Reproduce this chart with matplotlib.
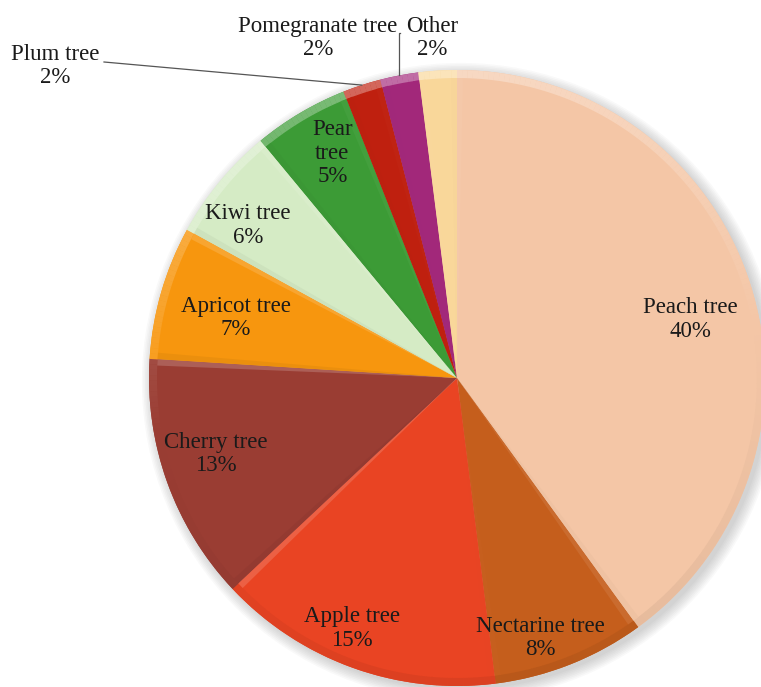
import numpy as np
import matplotlib.pyplot as plt
from matplotlib.patches import Wedge, Circle, Polygon
from matplotlib.colors import to_rgb

plt.rcParams['font.family'] = ['Liberation Serif', 'DejaVu Serif']

labels = ['Peach tree', 'Nectarine tree', 'Apple tree', 'Cherry tree', 'Apricot tree',
          'Kiwi tree', 'Pear tree', 'Plum tree', 'Pomegranate tree', 'Other']
shares = [40, 8, 15, 13, 7, 6, 5, 2, 2, 2]
colors = ['#F4C6A6', '#C55E1C', '#E94423', '#9A3D33', '#F7960E',
          '#D5EBC5', '#3C9B36', '#BF200F', '#A2287A', '#F9D79A']

# label text; inside labels sit at (radius, angle shift), the small slices go outside
label_text = ['Peach tree\n40%', 'Nectarine tree\n8%', 'Apple tree\n15%', 'Cherry tree\n13%',
              'Apricot tree\n7%', 'Kiwi tree\n6%', 'Pear\ntree\n5%', 'Plum tree\n2%',
              'Pomegranate tree\n2%', 'Other\n2%']
label_r = [0.78, 0.886, 0.883, 0.82, 0.743, 0.84, 0.835, None, None, None]
label_dt = [-4.0, -3.9, -2.9, -2.3, 1.0, 3.4, -1.6, 0, 0, 0]

W, H = 761, 687
cx, cy, R = 457, 378, 308

fig = plt.figure(figsize=(W / 100, H / 100), dpi=100)
ax = fig.add_axes([(cx - R) / W, (H - cy - R) / H, 2 * R / W, 2 * R / H])
ax.set_xlim(-1, 1)
ax.set_ylim(-1, 1)
ax.set_aspect('equal')
ax.axis('off')


def lit(c, s):
    # s > 0 lightens towards white, s < 0 darkens
    r, g, b = to_rgb(c)
    if s >= 0:
        return (r + (1 - r) * s, g + (1 - g) * s, b + (1 - b) * s)
    return (r * (1 + s), g * (1 + s), b * (1 + s))


def light(normal_deg):
    # light comes from above, slightly to the left
    return np.cos(np.deg2rad(normal_deg - 100))


# soft drop shadow under the pie
for k in range(8):
    ax.add_patch(Circle((0.012, -0.012), 1.0 + 0.005 * k, color='#777777',
                        alpha=0.045, lw=0, zorder=0, clip_on=False))

bev = 0.026
total = sum(shares)
start = 90.0
mids = []
for lab, val, col in zip(labels, shares, colors):
    sweep = 360.0 * val / total
    t1, t2 = start - sweep, start
    face = Wedge((0, 0), 1.0, t1, t2, facecolor=col, edgecolor='none',
                 zorder=1, clip_on=False)
    ax.add_patch(face)

    # rim bevel, shaded along the arc
    edges = np.linspace(t1, t2, max(2, int(sweep) + 1))
    for a0, a1 in zip(edges[:-1], edges[1:]):
        s = light((a0 + a1) / 2)
        c = lit(col, 0.32 * s if s > 0 else 0.06 * s)
        ax.add_patch(Wedge((0, 0), 1.0, a0, a1 + 0.05, width=bev, facecolor=c,
                           edgecolor='none', zorder=2, clip_on=False))

    # radial edge bevels, converging at the centre
    for t, nrm in ((t2, t2 + 90), (t1, t1 - 90)):
        u = np.array([np.cos(np.deg2rad(t)), np.sin(np.deg2rad(t))])
        n_in = -np.array([np.cos(np.deg2rad(nrm)), np.sin(np.deg2rad(nrm))])
        s = light(nrm)
        c = lit(col, 0.18 * s if s > 0 else 0.05 * s)
        pts = [(0, 0), tuple(u * (1 - bev)), tuple(u * (1 - bev) + n_in * bev * 0.8)]
        strip = Polygon(pts, closed=True, facecolor=c, edgecolor='none',
                        zorder=2, clip_on=False)
        ax.add_patch(strip)
        strip.set_clip_path(face)

    mids.append((t1 + t2) / 2)
    start = t1

fs = 16.5
ls = 1.18
for txt, r, dt, m in zip(label_text, label_r, label_dt, mids):
    if r is None:
        continue
    a = np.deg2rad(m + dt)
    ax.text(r * np.cos(a), r * np.sin(a), txt, ha='center', va='center',
            fontsize=fs, color='#1a1a1a', linespacing=ls, zorder=5)


def px(x, y):
    return (x - cx) / R, (cy - y) / R


# outside labels with leader lines
plum_a = np.deg2rad(mids[7])
ax.text(*px(55, 66), label_text[7], ha='center', va='center', fontsize=fs,
        color='#1a1a1a', linespacing=ls, clip_on=False)
ax.plot([px(104, 62)[0], 1.0 * np.cos(plum_a)], [px(104, 62)[1], 1.0 * np.sin(plum_a)],
        color='#555555', lw=0.9, zorder=6, clip_on=False)

pom_a = np.deg2rad(mids[8])
ax.text(*px(318, 38), label_text[8], ha='center', va='center', fontsize=fs,
        color='#1a1a1a', linespacing=ls, clip_on=False)
ex, ey = np.cos(pom_a), np.sin(pom_a)
ax.plot([px(400, 33)[0], ex, ex], [px(400, 33)[1], px(400, 33)[1], ey],
        color='#555555', lw=0.9, zorder=6, clip_on=False)

ax.text(*px(432, 38), label_text[9], ha='center', va='center', fontsize=fs,
        color='#1a1a1a', linespacing=ls, clip_on=False)

fig.savefig('out.png', dpi=100, facecolor='white')
